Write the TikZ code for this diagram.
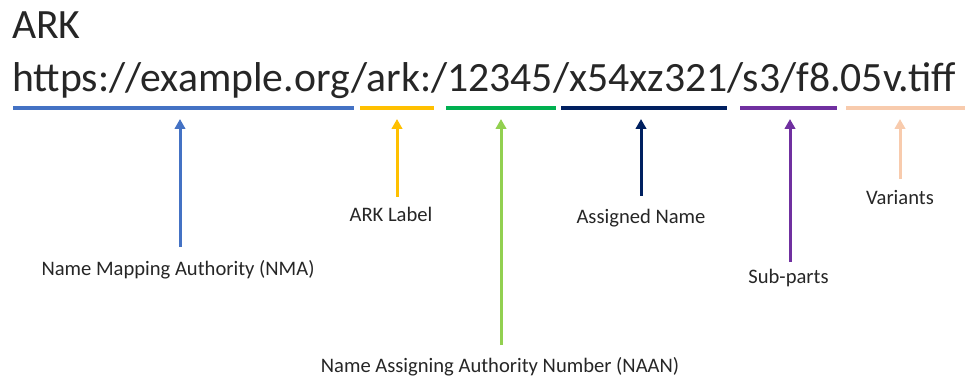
\documentclass[tikz,border=0pt]{standalone}
\usepackage{fontspec}
\setmainfont{Carlito}
\usetikzlibrary{arrows.meta}
\definecolor{txt}{HTML}{262626}
\definecolor{cNMA}{HTML}{4472C4}
\definecolor{cLbl}{HTML}{FFC000}
\definecolor{cNaanBar}{HTML}{00B050}
\definecolor{cNaan}{HTML}{92D050}
\definecolor{cName}{HTML}{002060}
\definecolor{cSub}{HTML}{7030A0}
\definecolor{cVar}{HTML}{F8CBAD}
\tikzset{
  bar/.style={line width=3.2pt},
  pointer/.style={line width=3pt,-{Triangle[width=10.5pt,length=10pt]}},
  partlabel/.style={text=txt,inner sep=0pt,font=\fontsize{20.6}{24}\selectfont},
  bigtext/.style={text=txt,inner sep=0pt,anchor=base west,font=\fontsize{41.7}{48}\selectfont},
}
\begin{document}
\begin{tikzpicture}[x=1pt,y=-1pt]
\useasboundingbox (0,0) rectangle (965,379);

% heading and the example identifier
\node[bigtext] (title) at (12,39) {ARK};
\node[bigtext] (url) at (12,92) {https://example.org/ark:/12345/x54xz321/s3/f8.05v.tiff};

% underlines marking each part of the identifier
\draw[bar,cNMA]     (13,108)  -- (354,108);
\draw[bar,cLbl]     (360,108) -- (434,108);
\draw[bar,cNaanBar] (446,108) -- (556,108);
\draw[bar,cName]    (561,108) -- (727,108);
\draw[bar,cSub]     (740,108) -- (837,108);
\draw[bar,cVar]     (846,108) -- (965,108);

% part names
\node[partlabel] (nma)  at (178,270) {Name Mapping Authority (NMA)};
\node[partlabel] (lbl)  at (391,214) {ARK Label};
\node[partlabel] (naan) at (500,367) {Name Assigning Authority Number (NAAN)};
\node[partlabel] (name) at (641,218) {Assigned Name};
\node[partlabel] (sub)  at (788.5,278) {Sub-parts};
\node[partlabel] (var)  at (900,197) {Variants};

% arrow ends
\coordinate (nmaT)  at (180,247);  \coordinate (nmaH)  at (180,119);
\coordinate (lblT)  at (397,197);  \coordinate (lblH)  at (397,119);
\coordinate (naanT) at (501,345);  \coordinate (naanH) at (501,119);
\coordinate (nameT) at (641,196);  \coordinate (nameH) at (641,119);
\coordinate (subT)  at (790,262);  \coordinate (subH)  at (790,119);
\coordinate (varT)  at (900,179);  \coordinate (varH)  at (900,119);

\draw[pointer,cNMA]  (nmaT)  -- (nmaH);
\draw[pointer,cLbl]  (lblT)  -- (lblH);
\draw[pointer,cNaan] (naanT) -- (naanH);
\draw[pointer,cName] (nameT) -- (nameH);
\draw[pointer,cSub]  (subT)  -- (subH);
\draw[pointer,cVar]  (varT)  -- (varH);
\end{tikzpicture}
\end{document}
